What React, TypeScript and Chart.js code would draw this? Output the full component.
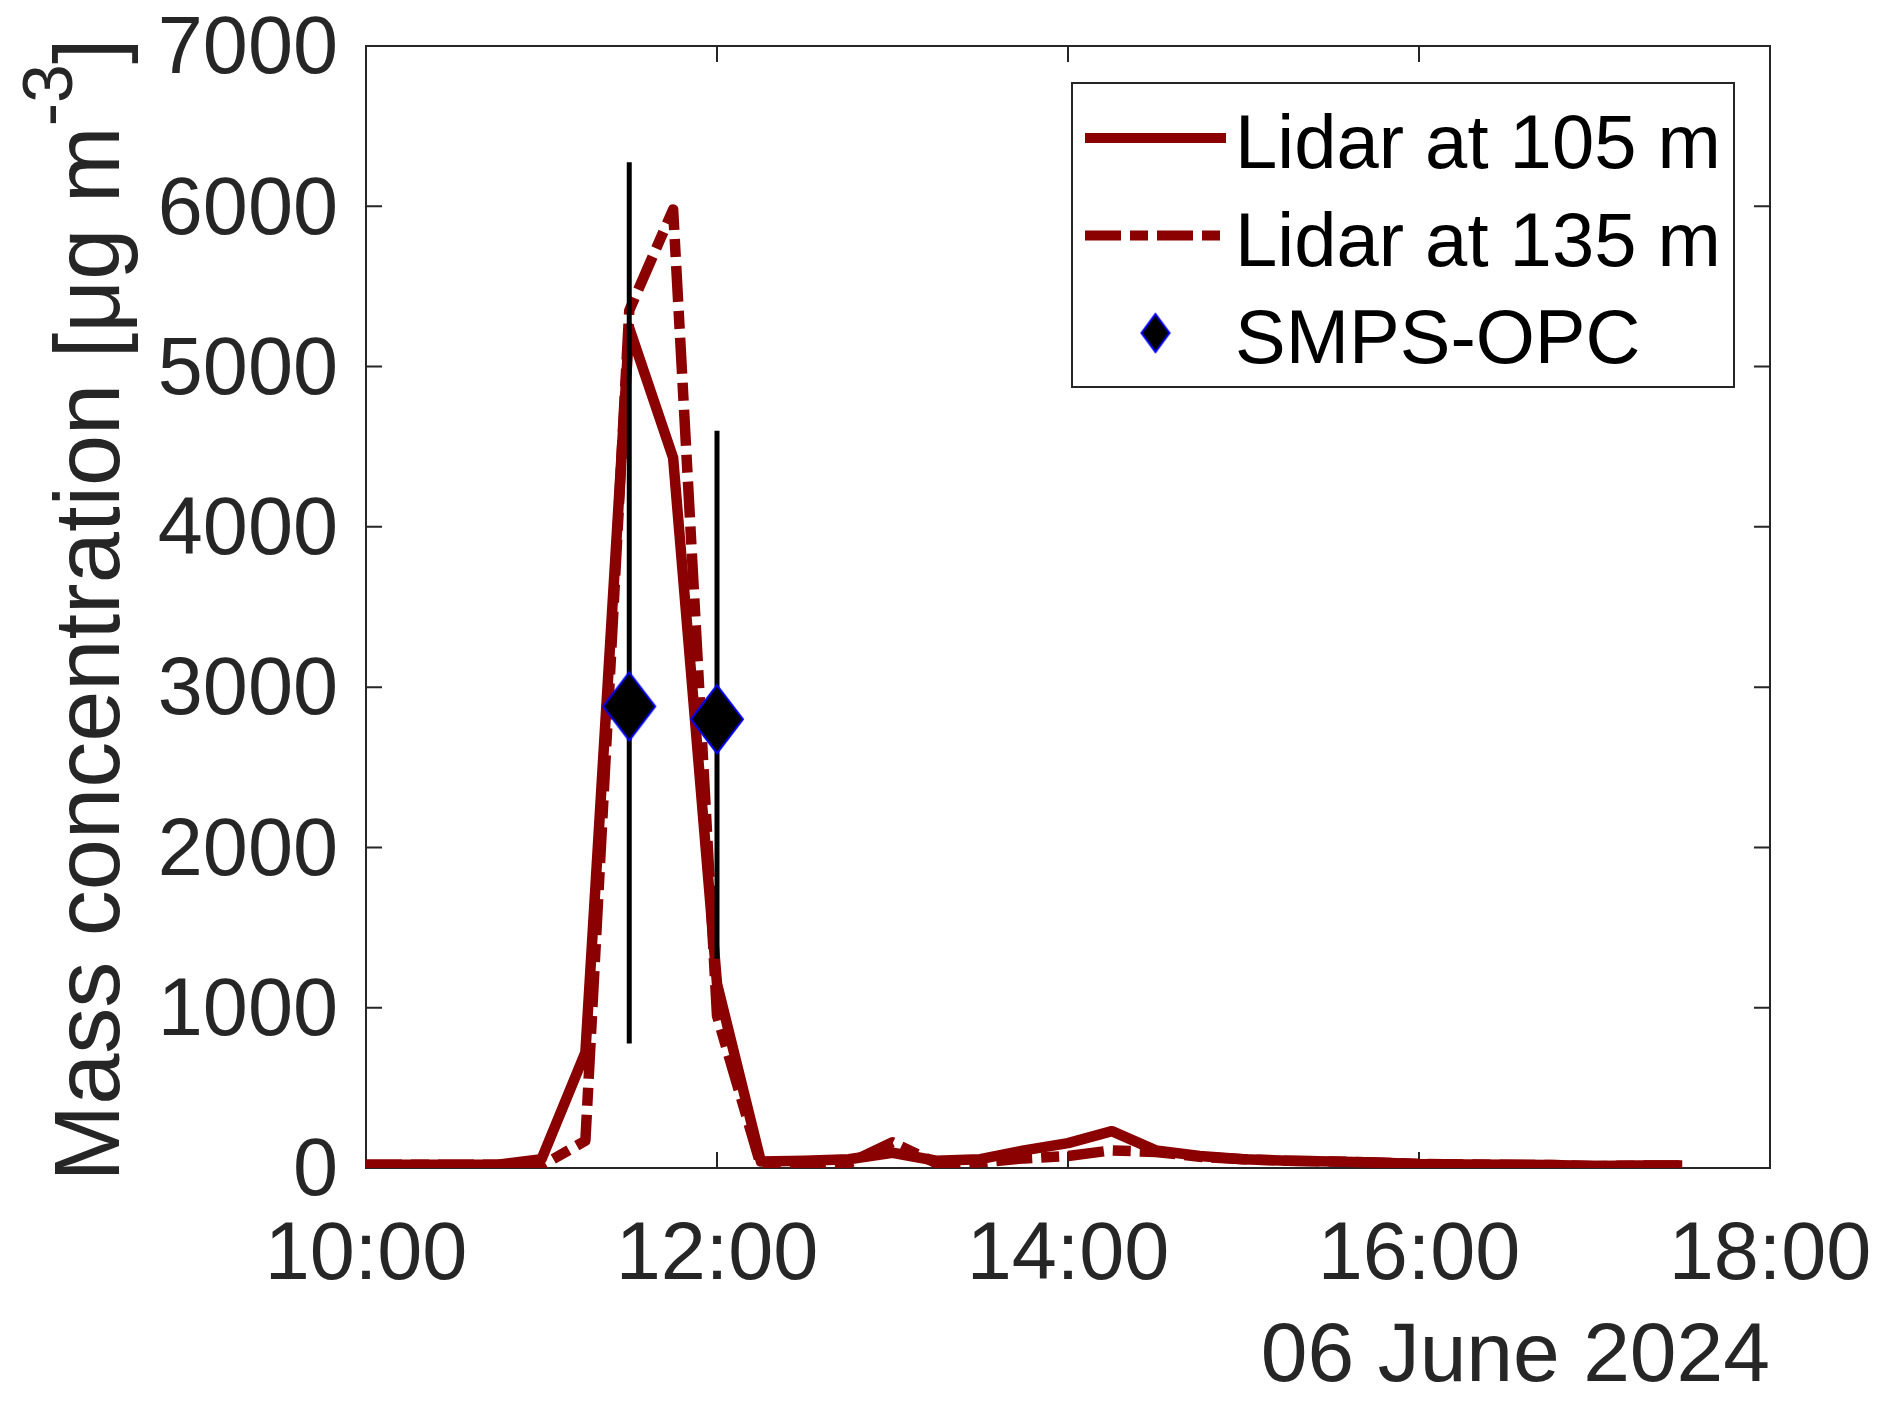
import { useEffect, useRef } from "react";
import { Chart, registerables } from "chart.js";

Chart.register(...registerables);

const FONT = "'Liberation Sans', Arial, Helvetica, sans-serif";
const AXIS = "#262626";
const RED = "#8b0000";
const TICK_LEN = 16;

// times in decimal hours, 06 June 2024
const lidarTimes = [
  10, 10.25, 10.5, 10.75, 11, 11.25, 11.5, 11.75, 12, 12.25, 12.5, 12.75, 13, 13.25, 13.5, 13.75,
  14, 14.25, 14.5, 14.75, 15, 15.25, 15.5, 15.75, 16, 16.25, 16.5, 16.75, 17, 17.25, 17.5,
];
const lidar105 = [
  20, 20, 20, 20, 55, 720, 5240, 4430, 1150, 40, 45, 55, 95, 45, 55, 110,
  155, 230, 110, 75, 55, 45, 40, 35, 25, 22, 20, 18, 12, 15, 15,
];
const lidar135 = [
  20, 20, 20, 20, 15, 170, 5350, 5980, 950, 15, 20, 30, 160, 30, 35, 60,
  75, 110, 100, 70, 55, 45, 40, 35, 25, 22, 20, 18, 12, 15, 15,
];

const smpsTimes = [11.5, 12];
const smpsValues = [2880, 2800];
const smpsLow = [777, 1305];
const smpsHigh = [6275, 4600];

const xTicks = [10, 12, 14, 16, 18];
const yTicks = [0, 1000, 2000, 3000, 4000, 5000, 6000, 7000];

const DASH_DOT = [36, 9, 18, 9];

function makeDiamond(w: number, h: number, lw: number) {
  const c = document.createElement("canvas");
  c.width = w + lw * 2;
  c.height = h + lw * 2;
  const ctx = c.getContext("2d")!;
  ctx.beginPath();
  ctx.moveTo(c.width / 2, lw);
  ctx.lineTo(c.width - lw, c.height / 2);
  ctx.lineTo(c.width / 2, c.height - lw);
  ctx.lineTo(lw, c.height / 2);
  ctx.closePath();
  ctx.fillStyle = "#000";
  ctx.fill();
  ctx.strokeStyle = "#0000ff";
  ctx.lineWidth = lw;
  ctx.stroke();
  return c;
}

const framePlugin = {
  id: "frame",
  beforeDatasetsDraw(chart: any) {
    const { ctx, chartArea: a, scales } = chart;
    ctx.save();
    ctx.strokeStyle = AXIS;
    ctx.lineWidth = 2;
    ctx.strokeRect(a.left, a.top, a.right - a.left, a.bottom - a.top);
    ctx.beginPath();
    scales.x.ticks.forEach((t: any) => {
      const px = scales.x.getPixelForValue(t.value);
      ctx.moveTo(px, a.bottom);
      ctx.lineTo(px, a.bottom - TICK_LEN);
      ctx.moveTo(px, a.top);
      ctx.lineTo(px, a.top + TICK_LEN);
    });
    scales.y.ticks.forEach((t: any) => {
      const py = scales.y.getPixelForValue(t.value);
      ctx.moveTo(a.left, py);
      ctx.lineTo(a.left + TICK_LEN, py);
      ctx.moveTo(a.right, py);
      ctx.lineTo(a.right - TICK_LEN, py);
    });
    ctx.stroke();
    ctx.restore();
  },
};

const yTitlePlugin = {
  id: "yTitle",
  afterDraw(chart: any) {
    const { ctx, chartArea: a } = chart;
    const main = "Mass concentration [\u03bcg m";
    const sup = "-3";
    const tail = "]";
    ctx.save();
    ctx.fillStyle = AXIS;
    ctx.font = `92px ${FONT}`;
    const w1 = ctx.measureText(main).width;
    const w3 = ctx.measureText(tail).width;
    ctx.font = `70px ${FONT}`;
    const w2 = ctx.measureText(sup).width;
    const total = w1 + w2 + w3;
    ctx.translate(119, (a.top + a.bottom) / 2 + 3);
    ctx.rotate(-Math.PI / 2);
    ctx.textBaseline = "alphabetic";
    ctx.textAlign = "left";
    const x0 = -total / 2;
    ctx.font = `92px ${FONT}`;
    ctx.fillText(main, x0, 0);
    ctx.font = `70px ${FONT}`;
    ctx.fillText(sup, x0 + w1, -47);
    ctx.font = `92px ${FONT}`;
    ctx.fillText(tail, x0 + w1 + w2, 0);
    ctx.restore();
  },
};

const legendDiamond = () => makeDiamond(28, 38, 2);

const legendPlugin = {
  id: "boxLegend",
  afterDatasetsDraw(chart: any) {
    const { ctx, chartArea: a } = chart;
    const ds = chart.data.datasets;
    const left = a.right - 698;
    const top = a.top + 37;
    const w = 662;
    const h = 304;
    ctx.save();
    ctx.fillStyle = "#fff";
    ctx.fillRect(left, top, w, h);
    ctx.strokeStyle = AXIS;
    ctx.lineWidth = 2;
    ctx.strokeRect(left, top, w, h);

    const rows = [ds[0], ds[1], ds[3]];
    rows.forEach((d: any, i: number) => {
      const cy = top + 55 + i * 97.5;
      const x1 = left + 13;
      const x2 = left + 154;
      if (i < 2) {
        ctx.strokeStyle = d.borderColor;
        ctx.lineWidth = 10;
        ctx.lineCap = "butt";
        ctx.setLineDash(d.borderDash || []);
        ctx.beginPath();
        ctx.moveTo(x1, cy);
        ctx.lineTo(x2, cy);
        ctx.stroke();
        ctx.setLineDash([]);
      } else {
        const img = legendDiamond();
        ctx.drawImage(img, (x1 + x2) / 2 - img.width / 2, cy - img.height / 2);
      }
      ctx.fillStyle = "#000";
      ctx.font = `76px ${FONT}`;
      ctx.textBaseline = "alphabetic";
      ctx.textAlign = "left";
      ctx.fillText(d.label, left + 163, cy + 30);
    });
    ctx.restore();
  },
};

function pad2(n: number) {
  return n < 10 ? "0" + n : String(n);
}

function noPadding(s: any) {
  s.paddingLeft = 0;
  s.paddingRight = 0;
  s.paddingTop = 0;
  s.paddingBottom = 0;
}

export default function App() {
  const canvasRef = useRef<HTMLCanvasElement>(null);
  const chartRef = useRef<Chart | null>(null);

  useEffect(() => {
    document.body.style.margin = "0";
    if (!canvasRef.current) return;
    const ctx = canvasRef.current.getContext("2d");
    if (!ctx) return;
    if (chartRef.current) chartRef.current.destroy();

    const errorData: any[] = [];
    smpsTimes.forEach((t, i) => {
      if (i > 0) errorData.push({ x: (t + smpsTimes[i - 1]) / 2, y: null });
      errorData.push({ x: t, y: smpsLow[i] });
      errorData.push({ x: t, y: smpsHigh[i] });
    });

    chartRef.current = new Chart(ctx, {
      type: "line",
      data: {
        datasets: [
          {
            label: "Lidar at 105 m",
            data: lidarTimes.map((t, i) => ({ x: t, y: lidar105[i] })),
            borderColor: RED,
            borderWidth: 10.5,
            pointRadius: 0,
            borderJoinStyle: "round",
            tension: 0,
            order: 4,
          },
          {
            label: "Lidar at 135 m",
            data: lidarTimes.map((t, i) => ({ x: t, y: lidar135[i] })),
            borderColor: RED,
            borderWidth: 10.5,
            borderDash: DASH_DOT,
            borderCapStyle: "butt",
            pointRadius: 0,
            borderJoinStyle: "round",
            tension: 0,
            order: 3,
          },
          {
            label: "error",
            data: errorData,
            borderColor: "#000",
            borderWidth: 5,
            pointRadius: 0,
            spanGaps: false,
            order: 2,
          },
          {
            label: "SMPS-OPC",
            data: smpsTimes.map((t, i) => ({ x: t, y: smpsValues[i] })),
            showLine: false,
            pointStyle: makeDiamond(52, 68, 2),
            pointRadius: 30,
            order: 1,
          },
        ],
      } as any,
      options: {
        animation: false,
        responsive: false,
        devicePixelRatio: 1,
        layout: { padding: { top: 46, right: 122, left: 0, bottom: 0 } },
        plugins: {
          legend: { display: false },
          tooltip: { enabled: false },
        },
        scales: {
          x: {
            type: "linear",
            min: 10,
            max: 18,
            afterFit: (s: any) => {
              s.height = 240;
              noPadding(s);
            },
            afterBuildTicks: (s: any) => {
              s.ticks = xTicks.map((v) => ({ value: v }));
            },
            grid: { display: false, drawTicks: false },
            border: { display: false },
            ticks: {
              padding: 40,
              color: AXIS,
              font: { family: FONT, size: 81 },
              maxRotation: 0,
              autoSkip: false,
              callback: (v: any) => `${pad2(Number(v))}:00`,
            },
            title: {
              display: true,
              text: "06 June 2024",
              align: "end",
              color: AXIS,
              font: { family: FONT, size: 84 },
              padding: 0,
            },
          },
          y: {
            type: "linear",
            min: 0,
            max: 7000,
            afterFit: (s: any) => {
              s.width = 366;
              noPadding(s);
            },
            afterBuildTicks: (s: any) => {
              s.ticks = yTicks.map((v) => ({ value: v }));
            },
            grid: { display: false, drawTicks: false },
            border: { display: false },
            ticks: {
              padding: 28,
              labelOffset: 5,
              color: AXIS,
              font: { family: FONT, size: 81 },
              autoSkip: false,
              callback: (v: any) => String(v),
            },
          },
        },
      } as any,
      plugins: [framePlugin, legendPlugin, yTitlePlugin],
    });

    return () => {
      if (chartRef.current) {
        chartRef.current.destroy();
        chartRef.current = null;
      }
    };
  }, []);

  return (
    <div style={{ width: 1892, height: 1408, background: "#fff" }}>
      <canvas ref={canvasRef} width={1892} height={1408} style={{ display: "block" }} />
    </div>
  );
}
